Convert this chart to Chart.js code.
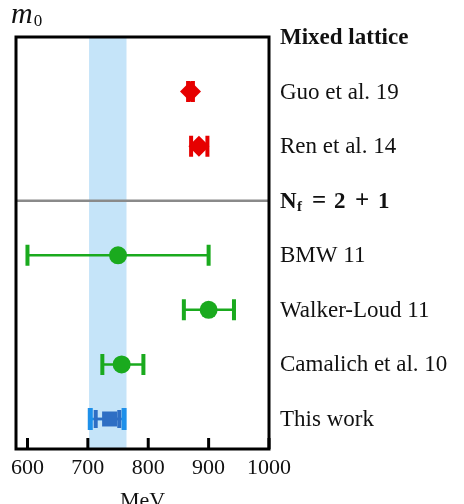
<!DOCTYPE html>
<html>
<head>
<meta charset="utf-8">
<script src="https://cdn.jsdelivr.net/npm/chart.js@4.4.1/dist/chart.umd.min.js"></script>
<style>
  body { margin: 0; background: #fff; }
  #wrap { width: 464px; height: 504px; }
</style>
</head>
<body>
<div id="wrap"><canvas id="massChart" width="464" height="504"></canvas></div>
<script>
// rows, top to bottom
const rowLabels = ["Mixed lattice", "Guo et al. 19", "Ren et al. 14", "N_f = 2 + 1", "BMW 11", "Walker-Loud 11", "Camalich et al. 10", "This work"]
const headerRows = [0, 3]

const mixedRows = [1, 2]
const mixedValues = [870, 884]
const mixedLow = [866, 871]
const mixedHigh = [874, 898]

const nfRows = [4, 5, 6]
const nfValues = [750, 900, 756]
const nfLow = [600, 859, 724]
const nfHigh = [900, 942, 792]

const thisRows = [7]
const thisValues = [736]
const thisInnerLow = [713]
const thisInnerHigh = [752]
const thisOuterLow = [704]
const thisOuterHigh = [760]

const bandRange = [702, 764]
const xTicks = [600, 700, 800, 900, 1000]
const xMin = 581
const xMax = 1000

const serif = "'Liberation Serif', 'DejaVu Serif', serif"
const RED = "#e60000"
const GREEN = "#1aaa1e"
const BLUE = "#2e6ec4"
const LIGHT_BLUE = "#1e90ea"

function points(rows, values) {
  return rows.map((r, i) => ({ x: values[i], y: r }))
}

function drawBar(ctx, xs, ys, lo, hi, y, color, lineW, capW, capH) {
  const x1 = xs.getPixelForValue(lo)
  const x2 = xs.getPixelForValue(hi)
  const py = ys.getPixelForValue(y)
  ctx.save()
  ctx.strokeStyle = color
  ctx.lineWidth = lineW
  ctx.beginPath()
  ctx.moveTo(x1, py)
  ctx.lineTo(x2, py)
  ctx.stroke()
  ctx.lineWidth = capW
  ctx.beginPath()
  ctx.moveTo(x1, py - capH)
  ctx.lineTo(x1, py + capH)
  ctx.moveTo(x2, py - capH)
  ctx.lineTo(x2, py + capH)
  ctx.stroke()
  ctx.restore()
}

// N_f = 2 + 1 with a subscript and math-like spacing
function drawNf(ctx, lx, py) {
  ctx.font = "bold 23px " + serif
  ctx.fillText("N", lx, py)
  ctx.fillText("2", lx + 54, py)
  ctx.fillText("1", lx + 98, py)
  ctx.textAlign = "center"
  ctx.font = "bold 25px " + serif
  ctx.fillText("=", lx + 39, py)
  ctx.fillText("+", lx + 82, py)
  ctx.textAlign = "left"
  ctx.font = "bold 15px " + serif
  ctx.fillText("f", lx + 17, py + 5)
}

const decorPlugin = {
  id: "decor",
  beforeDatasetsDraw(chart) {
    const { ctx, chartArea: a, scales } = chart
    const xs = scales.x, ys = scales.y
    // shaded band
    ctx.save()
    ctx.fillStyle = "#c5e4f9"
    const b1 = xs.getPixelForValue(bandRange[0])
    const b2 = xs.getPixelForValue(bandRange[1])
    ctx.fillRect(b1, a.top, b2 - b1, a.bottom - a.top)
    // separator
    ctx.strokeStyle = "#8a8a8a"
    ctx.lineWidth = 2.5
    const sy = ys.getPixelForValue(headerRows[1])
    ctx.beginPath()
    ctx.moveTo(a.left, sy)
    ctx.lineTo(a.right, sy)
    ctx.stroke()
    ctx.restore()

    mixedRows.forEach((r, i) => drawBar(ctx, xs, ys, mixedLow[i], mixedHigh[i], r, RED, 2.5, 4, 10.5))
    nfRows.forEach((r, i) => drawBar(ctx, xs, ys, nfLow[i], nfHigh[i], r, GREEN, 2.5, 4, 10.5))
    thisRows.forEach((r, i) => {
      drawBar(ctx, xs, ys, thisOuterLow[i], thisOuterHigh[i], r, LIGHT_BLUE, 2.5, 5, 11)
      drawBar(ctx, xs, ys, thisInnerLow[i], thisInnerHigh[i], r, BLUE, 2.5, 4, 9)
    })
  },
  afterDraw(chart) {
    const { ctx, chartArea: a, scales } = chart
    const xs = scales.x, ys = scales.y
    ctx.save()
    // inward tick marks
    ctx.strokeStyle = "#000"
    ctx.lineWidth = 3
    xTicks.forEach(v => {
      const px = xs.getPixelForValue(v)
      ctx.beginPath()
      ctx.moveTo(px, a.bottom)
      ctx.lineTo(px, a.bottom - 11)
      ctx.stroke()
    })
    // frame
    ctx.strokeRect(a.left, a.top, a.right - a.left, a.bottom - a.top)

    // row labels
    ctx.fillStyle = "#111"
    ctx.textBaseline = "middle"
    ctx.textAlign = "left"
    const lx = a.right + 11
    rowLabels.forEach((txt, i) => {
      const py = ys.getPixelForValue(i) + 1
      if (txt.startsWith("N_f")) {
        drawNf(ctx, lx, py)
        return
      }
      ctx.font = (headerRows.includes(i) ? "bold " : "") + "23px " + serif
      ctx.fillText(txt, lx, py)
    })

    // axis symbol m0
    ctx.textBaseline = "alphabetic"
    ctx.font = "italic 30px " + serif
    ctx.fillText("m", 11, 23)
    const mw = ctx.measureText("m").width
    ctx.font = "17px " + serif
    ctx.fillText("0", 12 + mw, 26)
    ctx.restore()
  }
}

const ctx = document.getElementById("massChart").getContext("2d")
new Chart(ctx, {
  type: "scatter",
  data: {
    datasets: [
      {
        label: "Mixed lattice",
        data: points(mixedRows, mixedValues),
        pointStyle: "rectRot",
        pointRadius: 10.5,
        backgroundColor: RED,
        borderWidth: 0,
      },
      {
        label: "Nf = 2+1",
        data: points(nfRows, nfValues),
        pointStyle: "circle",
        pointRadius: 9,
        backgroundColor: GREEN,
        borderWidth: 0,
      },
      {
        label: "This work",
        data: points(thisRows, thisValues),
        pointStyle: "rect",
        pointRadius: 10.6,
        backgroundColor: BLUE,
        borderWidth: 0,
      },
    ],
  },
  options: {
    responsive: false,
    animation: false,
    events: [],
    layout: { padding: { left: 16, top: 37, right: 195, bottom: -8 } },
    plugins: { legend: { display: false }, tooltip: { enabled: false } },
    scales: {
      x: {
        type: "linear",
        min: xMin,
        max: xMax,
        afterBuildTicks: (scale) => { scale.ticks = xTicks.map(v => ({ value: v })) },
        grid: { display: false, drawTicks: false },
        border: { display: false },
        ticks: { color: "#111", padding: 8, font: { family: serif, size: 22, lineHeight: 1 }, callback: (v) => String(v) },
        title: { display: true, text: "MeV", color: "#111", padding: { top: 3, bottom: 0 }, font: { family: serif, size: 22, lineHeight: 1 } },
      },
      y: {
        type: "linear",
        display: false,
        reverse: true,
        min: 0,
        max: 7.55,
      },
    },
  },
  plugins: [decorPlugin],
})
</script>
</body>
</html>
